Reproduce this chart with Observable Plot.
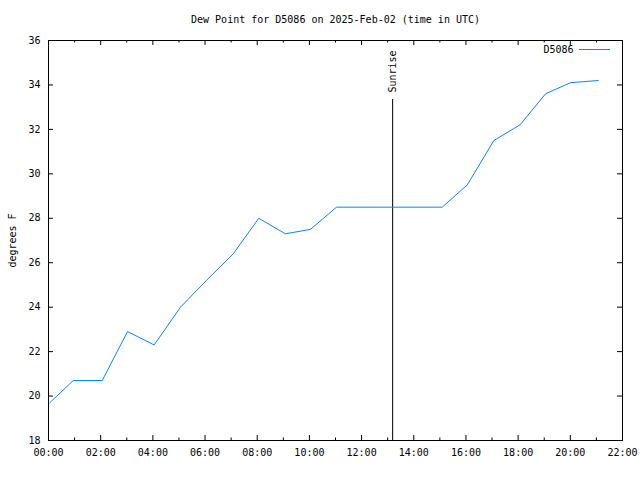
<!DOCTYPE html>
<html>
<head>
<meta charset="utf-8">
<script src="https://cdn.jsdelivr.net/npm/d3@7"></script>
<script src="https://cdn.jsdelivr.net/npm/@observablehq/plot@0.6"></script>
<style>
  html, body { margin: 0; padding: 0; background: #fff; }
</style>
</head>
<body>
<div id="chart"></div>
<script>
// hours (UTC, decimal) of observations
const times = [0.05, 0.95, 2.06, 3.03, 4.05, 5.06, 6.05, 7.08, 8.06, 9.08, 10.04, 11.04, 12.05, 13.05, 14.05, 15.09, 16.05, 17.07, 18.07, 19.05, 20.0, 21.07];
// dew point, degrees F
const dewPoint = [19.7, 20.7, 20.7, 22.9, 22.3, 24.0, 25.2, 26.4, 28.0, 27.3, 27.5, 28.5, 28.5, 28.5, 28.5, 28.5, 29.5, 31.5, 32.2, 33.6, 34.1, 34.2];
const xMajorTicks = [0, 2, 4, 6, 8, 10, 12, 14, 16, 18, 20, 22];
const xMinorTicks = [1, 3, 5, 7, 9, 11, 13, 15, 17, 19, 21];
const yTicks = [18, 20, 22, 24, 26, 28, 30, 32, 34, 36];
const sunrise = [13.19];
const titleText = "Dew Point for D5086 on 2025-Feb-02 (time in UTC)";
const yLabel = "degrees F";
const seriesName = "D5086";

const data = times.map((t, i) => ({t, v: dewPoint[i]}));
const fmt = d => String(d).padStart(2, "0") + ":00";
const lineColor = "#0a84ff";

const chart = Plot.plot({
  width: 640,
  height: 480,
  marginLeft: 48,
  marginRight: 18,
  marginTop: 40,
  marginBottom: 40,
  style: {fontFamily: "'DejaVu Sans Mono', monospace", fontSize: "10px", background: "#fff", color: "#000"},
  x: {domain: [0, 22], axis: null},
  y: {domain: [18, 36], axis: null},
  marks: [
    Plot.axisX({ticks: xMajorTicks, tickFormat: fmt, tickSize: 0, tickPadding: 8, label: null, fontSize: 10}),
    Plot.axisY({ticks: yTicks, tickSize: 0, tickPadding: 8, label: null, fontSize: 10}),
    // inward ticks, all four sides
    Plot.tickX(xMajorTicks, {x: d => d, insetTop: 395, stroke: "black"}),
    Plot.tickX(xMajorTicks, {x: d => d, insetBottom: 395, stroke: "black"}),
    Plot.tickX(xMinorTicks, {x: d => d, insetTop: 397.5, stroke: "black"}),
    Plot.tickX(xMinorTicks, {x: d => d, insetBottom: 397.5, stroke: "black"}),
    Plot.tickY(yTicks, {y: d => d, insetRight: 569, stroke: "black"}),
    Plot.tickY(yTicks, {y: d => d, insetLeft: 569, stroke: "black"}),
    // sunrise marker
    Plot.ruleX(sunrise, {x: d => d, insetTop: 59, stroke: "black"}),
    Plot.text(sunrise, {x: d => d, text: () => "Sunrise", frameAnchor: "top", rotate: -90, textAnchor: "start", lineAnchor: "middle", dy: 52, fill: "black", fontSize: 10}),
    // series
    Plot.line(data, {x: "t", y: "v", stroke: lineColor, strokeWidth: 1}),
    Plot.frame({stroke: "black"}),
    // title & labels
    Plot.text([titleText], {text: d => d, frameAnchor: "top", lineAnchor: "middle", dy: -21, fill: "black", fontSize: 10}),
    Plot.text([yLabel], {text: d => d, frameAnchor: "left", textAnchor: "middle", lineAnchor: "middle", rotate: -90, dx: -36, fill: "black", fontSize: 10}),
    Plot.text([seriesName], {text: d => d, frameAnchor: "top-right", textAnchor: "end", lineAnchor: "middle", dx: -49, dy: 9, fill: "black", fontSize: 10})
  ]
});

// legend line sample
d3.select(chart).append("line")
  .attr("x1", 579).attr("x2", 610).attr("y1", 49.5).attr("y2", 49.5)
  .attr("stroke", lineColor).attr("stroke-width", 1);

document.getElementById("chart").appendChild(chart);
</script>
</body>
</html>
